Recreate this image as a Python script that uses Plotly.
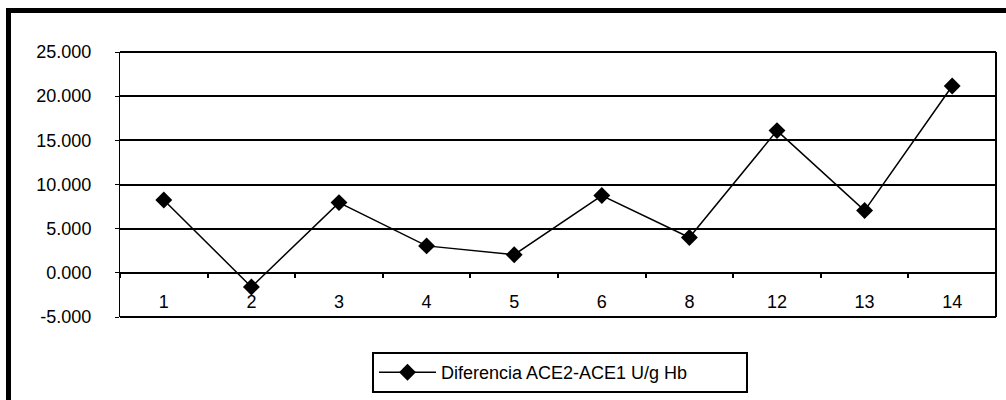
import plotly.graph_objects as go

# Sample identifiers and the ACE2 - ACE1 difference (U/g Hb) for each one
categories = ["1", "2", "3", "4", "5", "6", "8", "12", "13", "14"]
differences = [8.25, -1.6, 7.95, 3.05, 2.05, 8.75, 4.0, 16.1, 7.05, 21.15]

y_tick_values = [-5, 0, 5, 10, 15, 20, 25]
y_tick_labels = ["-5.000", "0.000", "5.000", "10.000", "15.000", "20.000", "25.000"]

series_name = "Diferencia ACE2-ACE1 U/g Hb"

W, H = 1006, 400
FONT = "Liberation Sans, Arial, sans-serif"

# plot area in pixels
left_px, right_px, top_px, bottom_px = 120, 996, 52, 317
x_dom = [left_px / W, right_px / W]
y_dom = [1 - bottom_px / H, 1 - top_px / H]

y_min, y_max = -5, 25
zero_pos = y_dom[0] + (0 - y_min) / (y_max - y_min) * (y_dom[1] - y_dom[0])

fig = go.Figure()
fig.add_trace(go.Scatter(
    x=categories,
    y=differences,
    mode="lines+markers",
    name=series_name,
    line=dict(color="black", width=1.5),
    marker=dict(symbol="diamond", size=13, color="black"),
))

fig.update_layout(
    template="none",
    width=W, height=H,
    margin=dict(l=0, r=0, t=0, b=0, pad=0),
    paper_bgcolor="white",
    plot_bgcolor="white",
    font=dict(family=FONT, size=18, color="black"),
    showlegend=True,
    legend=dict(
        orientation="h",
        x=372 / W, y=(H - 393) / H,
        xanchor="left", yanchor="bottom",
        bordercolor="black", borderwidth=2,
        bgcolor="white",
        font=dict(family=FONT, size=18, color="black"),
        itemwidth=57,
        entrywidth=300,
        entrywidthmode="pixels",
    ),
    xaxis=dict(
        domain=x_dom,
        type="category",
        anchor="free",
        position=zero_pos,
        automargin=False,
        showgrid=False,
        zeroline=False,
        showline=False,
        ticks="outside",
        ticklen=4,
        tickwidth=1.5,
        tickcolor="black",
        tickson="boundaries",
        ticklabelstandoff=16,
        tickfont=dict(family=FONT, size=18, color="black"),
        range=[-0.5, len(categories) - 0.5],
        fixedrange=True,
    ),
    yaxis=dict(
        domain=y_dom,
        range=[y_min, y_max],
        automargin=False,
        tickmode="array",
        tickvals=y_tick_values,
        ticktext=y_tick_labels,
        showgrid=True,
        gridcolor="black",
        gridwidth=2,
        zeroline=True,
        zerolinecolor="black",
        zerolinewidth=2,
        showline=True,
        linecolor="black",
        linewidth=1,
        ticks="outside",
        ticklen=4,
        tickcolor="black",
        ticklabelstandoff=20,
        tickfont=dict(family=FONT, size=18, color="black"),
        fixedrange=True,
    ),
)

# plot-area border (top, right, bottom)
for x0, y0, x1, y1 in [(0, 1, 1, 1), (1, 0, 1, 1), (0, 0, 1, 0)]:
    fig.add_shape(type="line", xref="x domain", yref="y domain",
                  x0=x0, y0=y0, x1=x1, y1=y1,
                  line=dict(color="black", width=2))

# heavy chart frame along the left and top edges
fig.add_shape(type="rect", xref="paper", yref="paper",
              x0=6 / W, x1=11 / W, y0=0, y1=1 - 8 / H,
              line=dict(width=0), fillcolor="black")
fig.add_shape(type="rect", xref="paper", yref="paper",
              x0=6 / W, x1=1, y0=1 - 13 / H, y1=1 - 8 / H,
              line=dict(width=0), fillcolor="black")

fig.write_html("out.html")
